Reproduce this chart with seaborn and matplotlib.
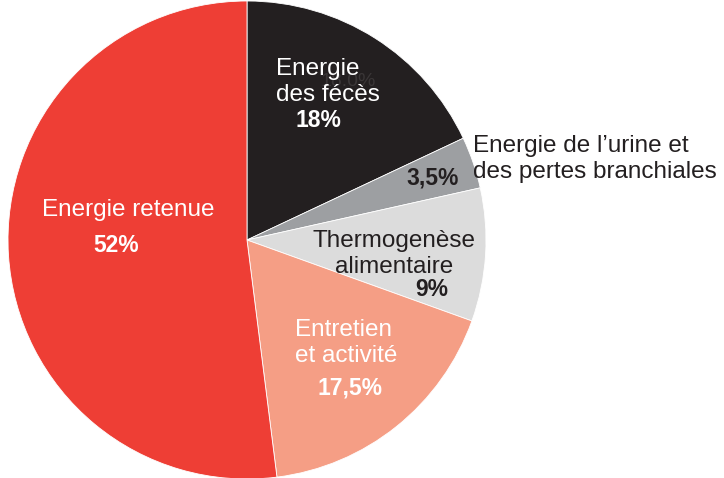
import matplotlib
matplotlib.use("Agg")
import matplotlib.pyplot as plt
import seaborn as sns

sns.set_theme(style="white")
plt.rcParams['font.family'] = ['Liberation Sans', 'DejaVu Sans']

# Data
categories = ["Energie des fécès", "Energie de l'urine et des pertes branchiales",
              "Thermogenèse alimentaire", "Entretien et activité", "Energie retenue"]
shares = [18, 3.5, 9, 17.5, 52]
pct_labels = ["18%", "3,5%", "9%", "17,5%", "52%"]
colors = ["#231f20", "#9d9fa2", "#dcdcdc", "#f59e85", "#ee3e35"]

W, H = 724, 478
fig = plt.figure(figsize=(W / 100, H / 100), dpi=100)
ax = fig.add_axes([0, 0, 1, 1])

ax.pie(shares, colors=colors, startangle=90, counterclock=False,
       center=(247, H - 240), radius=239, frame=True,
       wedgeprops=dict(edgecolor='white', linewidth=0.6))
ax.set_xlim(0, W)
ax.set_ylim(0, H)
ax.set_aspect('equal')
ax.axis('off')

LBL = 17.5
PCT = 16.5

def txt(x, y, s, color, bold=False, ha='center', size=LBL):
    ax.text(x, H - y, s, color=color, ha=ha, va='center', fontsize=size,
            fontweight='bold' if bold else 'normal', linespacing=1.2)

# leftover faint label in the dark slice
txt(348, 81, "18.0%", "#3a3637", size=14)

txt(276, 82, "Energie\ndes fécès", "white", ha='left')
txt(318, 120, pct_labels[0], "white", bold=True, size=PCT)

txt(473, 159, "Energie de l\u2019urine et\ndes pertes branchiales", "#231f20", ha='left')
txt(433, 178, pct_labels[1], "#231f20", bold=True, size=PCT)

txt(394, 254, "Thermogenèse\nalimentaire", "#231f20")
txt(448, 289, pct_labels[2], "#231f20", bold=True, ha='right', size=PCT)

txt(295, 343, "Entretien\net activité", "white", ha='left')
txt(350, 388, pct_labels[3], "white", bold=True, size=PCT)

txt(128, 210, "Energie retenue", "white")
txt(116, 245, pct_labels[4], "white", bold=True, size=PCT)

fig.savefig("out.png", dpi=100)
